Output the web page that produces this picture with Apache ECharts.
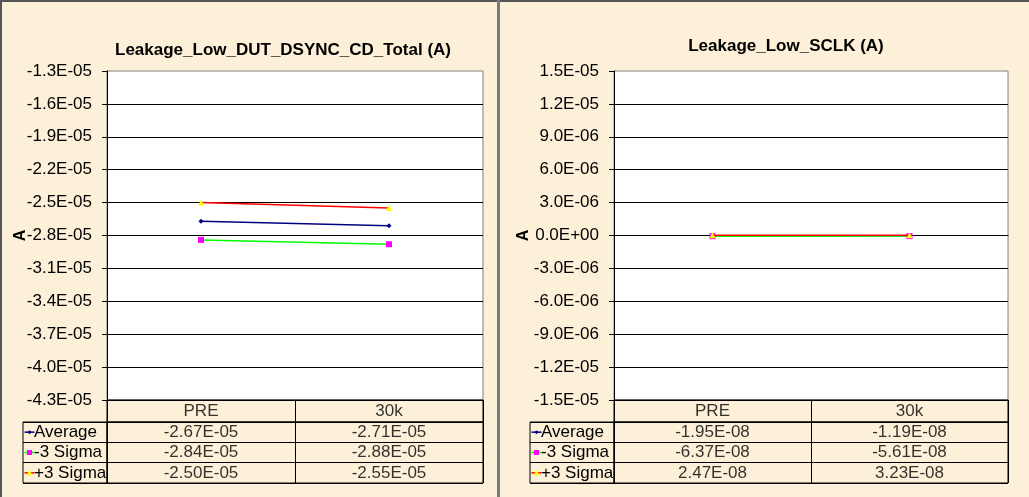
<!DOCTYPE html>
<html>
<head>
<meta charset="utf-8">
<style>
html,body{margin:0;padding:0;background:#FCF0D9;}
#chart{width:1029px;height:497px;}
</style>
<script src="https://cdn.jsdelivr.net/npm/echarts@6/dist/echarts.min.js"></script>
</head>
<body>
<div id="chart"></div>
<script>
// ---- data ----
const categories = ['PRE', '30k'];
const seriesNames = ['Average', '-3 Sigma', '+3 Sigma'];

const leftTitle = 'Leakage_Low_DUT_DSYNC_CD_Total (A)';
const leftAverage = [-2.67e-5, -2.71e-5];
const leftMinus3 = [-2.84e-5, -2.88e-5];
const leftPlus3 = [-2.50e-5, -2.55e-5];
const leftAxis = {min: -4.3e-5, max: -1.3e-5, interval: 3e-6};

const rightTitle = 'Leakage_Low_SCLK (A)';
const rightAverage = [-1.95e-8, -1.19e-8];
const rightMinus3 = [-6.37e-8, -5.61e-8];
const rightPlus3 = [2.47e-8, 3.23e-8];
const rightAxis = {min: -1.5e-5, max: 1.5e-5, interval: 3e-6};

const axisName = 'A';

// ---- styles ----
const FONT = 'Liberation Sans, Arial, sans-serif';
const seriesStyles = [
  {line: '#000080', marker: '#000080', symbol: 'diamond', size: 5},
  {line: '#00FF00', marker: '#FF00FF', symbol: 'rect', size: 6},
  {line: '#FF0000', marker: '#FFFF00', symbol: 'triangle', size: 6}
];

function sci(v, d) {
  if (Math.abs(v) < 1e-15) v = 0;
  const s = v.toExponential(d);
  const parts = s.split('e');
  const e = parseInt(parts[1], 10);
  const sign = e < 0 ? '-' : '+';
  const n = Math.abs(e);
  return parts[0] + 'E' + sign + (n < 10 ? '0' : '') + n;
}

const chart = echarts.init(document.getElementById('chart'), null, {renderer: 'canvas'});

const grids = [];
const xAxes = [];
const yAxes = [];
const series = [];
const titles = [];

function buildPanel(cfg) {
  const base = grids.length;
  const gPlot = base, gHead = base + 1, gVal = base + 2, gLeg = base + 3;
  grids.push({left: cfg.left, top: 71, width: cfg.width, height: 329, show: true,
    backgroundColor: '#FFFFFF', borderColor: '#808080', borderWidth: 1});
  grids.push({left: cfg.left, top: 400, width: cfg.width, height: 22, show: true,
    backgroundColor: 'transparent', borderColor: '#000', borderWidth: 1});
  grids.push({left: cfg.left, top: 422, width: cfg.width, height: 61, show: true,
    backgroundColor: 'transparent', borderColor: '#000', borderWidth: 1});
  grids.push({left: cfg.left - 84, top: 422, width: 84, height: 61, show: true,
    backgroundColor: 'transparent', borderColor: '#000', borderWidth: 1});

  // plot axes
  xAxes.push({gridIndex: gPlot, type: 'category', data: categories, boundaryGap: true,
    axisLabel: {show: false}, axisTick: {show: false},
    axisLine: {show: true, lineStyle: {color: '#000', width: 1}}, splitLine: {show: false}});
  yAxes.push({gridIndex: gPlot, type: 'value', min: cfg.axis.min, max: cfg.axis.max, interval: cfg.axis.interval,
    name: axisName, nameLocation: 'middle', nameRotate: 90, nameGap: cfg.nameGap, nameMoveOverlap: false,
    nameTextStyle: {fontFamily: FONT, fontWeight: 'bold', fontSize: 16, color: '#000'},
    axisLine: {show: true, lineStyle: {color: '#000', width: 1}},
    axisTick: {show: true, length: 5, lineStyle: {color: '#000'}},
    axisLabel: {margin: 15, fontFamily: FONT, fontSize: 17, color: '#000', formatter: v => sci(v, 1)},
    splitLine: {show: true, showMaxLine: false, lineStyle: {color: '#000', width: 1}}});

  // header axes
  xAxes.push({gridIndex: gHead, type: 'category', data: categories, boundaryGap: true,
    axisLabel: {show: false}, axisTick: {show: false}, axisLine: {show: false},
    splitLine: {show: true, interval: 0, lineStyle: {color: '#000', width: 1}}});
  yAxes.push({gridIndex: gHead, type: 'category', data: [''], axisLabel: {show: false},
    axisTick: {show: false}, axisLine: {show: false}, splitLine: {show: false}});

  // value table axes
  xAxes.push({gridIndex: gVal, type: 'category', data: categories, boundaryGap: true,
    axisLabel: {show: false}, axisTick: {show: false}, axisLine: {show: false},
    splitLine: {show: true, interval: 0, lineStyle: {color: '#000', width: 1}}});
  yAxes.push({gridIndex: gVal, type: 'category', data: seriesNames, inverse: true, axisLabel: {show: false},
    axisTick: {show: false}, axisLine: {show: false},
    splitLine: {show: true, interval: 0, lineStyle: {color: '#000', width: 1}}});

  // legend column axes
  xAxes.push({gridIndex: gLeg, type: 'category', data: [''], boundaryGap: true,
    axisLabel: {show: false}, axisTick: {show: false}, axisLine: {show: false}, splitLine: {show: false}});
  yAxes.push({gridIndex: gLeg, type: 'category', data: seriesNames, inverse: true, axisLabel: {show: false},
    axisTick: {show: false}, axisLine: {show: false},
    splitLine: {show: true, interval: 0, lineStyle: {color: '#000', width: 1}}});

  // line series
  cfg.values.forEach((vals, i) => {
    const st = seriesStyles[i];
    series.push({type: 'line', name: seriesNames[i], xAxisIndex: gPlot, yAxisIndex: gPlot,
      data: vals, symbol: st.symbol, symbolSize: st.size, showAllSymbol: true,
      lineStyle: {color: st.line, width: 1.5},
      itemStyle: {color: st.marker, borderWidth: 0},
      z: 3 + i});
  });

  // header text
  series.push({type: 'scatter', xAxisIndex: gHead, yAxisIndex: gHead, symbolSize: 0,
    data: categories.map(c => [c, '']),
    label: {show: true, position: 'inside', fontFamily: FONT, fontSize: 17, color: '#000',
      formatter: p => p.value[0]}});

  // value cells
  const cells = [];
  cfg.values.forEach((vals, i) => {
    vals.forEach((v, j) => cells.push([categories[j], seriesNames[i], v]));
  });
  series.push({type: 'scatter', xAxisIndex: gVal, yAxisIndex: gVal, symbolSize: 0,
    data: cells,
    label: {show: true, position: 'inside', fontFamily: FONT, fontSize: 17, color: '#000',
      formatter: p => sci(p.value[2], 2)}});

  // legend cells
  series.push({type: 'custom', xAxisIndex: gLeg, yAxisIndex: gLeg,
    data: seriesNames.map((n, i) => [0, i]),
    renderItem: function (params, api) {
      const i = api.value(1);
      const c = api.coord([0, i]);
      const sz = api.size([1, 1]);
      const x0 = c[0] - sz[0] / 2;
      const y = c[1];
      const st = seriesStyles[i];
      const mx = x0 + 6.5;
      let marker;
      if (st.symbol === 'rect') {
        marker = {type: 'rect', shape: {x: mx - 2.5, y: y - 2.5, width: 5, height: 5}, style: {fill: st.marker}};
      } else if (st.symbol === 'triangle') {
        marker = {type: 'polygon', shape: {points: [[mx, y - 3], [mx + 3, y + 2.5], [mx - 3, y + 2.5]]}, style: {fill: st.marker}};
      } else {
        marker = {type: 'polygon', shape: {points: [[mx, y - 2], [mx + 2, y], [mx, y + 2], [mx - 2, y]]}, style: {fill: st.marker}};
      }
      return {type: 'group', children: [
        {type: 'line', shape: {x1: x0 + 1.5, y1: y, x2: x0 + 11.5, y2: y}, style: {stroke: st.line, lineWidth: 1.5}},
        marker,
        {type: 'text', style: {x: x0 + 11, y: y, text: seriesNames[i], font: '17px ' + FONT,
          fill: '#000', align: 'left', verticalAlign: 'middle'}}
      ]};
    }});

  titles.push({text: cfg.title, left: cfg.titleX, top: cfg.titleY, textAlign: 'center',
    textStyle: {fontFamily: FONT, fontWeight: 'bold', fontSize: 17, color: '#000'}});
}

buildPanel({left: 107, width: 376, axis: leftAxis, values: [leftAverage, leftMinus3, leftPlus3],
  title: leftTitle, titleX: 278, titleY: 37, nameGap: 78});
buildPanel({left: 614, width: 394, axis: rightAxis, values: [rightAverage, rightMinus3, rightPlus3],
  title: rightTitle, titleX: 781, titleY: 33, nameGap: 82});

chart.setOption({
  animation: false,
  backgroundColor: '#FCF0D9',
  title: titles,
  grid: grids,
  xAxis: xAxes,
  yAxis: yAxes,
  series: series,
  graphic: [
    {type: 'rect', shape: {x: 0, y: 0, width: 1029, height: 2}, style: {fill: '#555'}, silent: true},
    {type: 'rect', shape: {x: 0, y: 0, width: 2, height: 497}, style: {fill: '#555'}, silent: true},
    {type: 'rect', shape: {x: 497, y: 0, width: 3, height: 497}, style: {fill: '#7a7a7a'}, silent: true}
  ]
});
</script>
</body>
</html>
